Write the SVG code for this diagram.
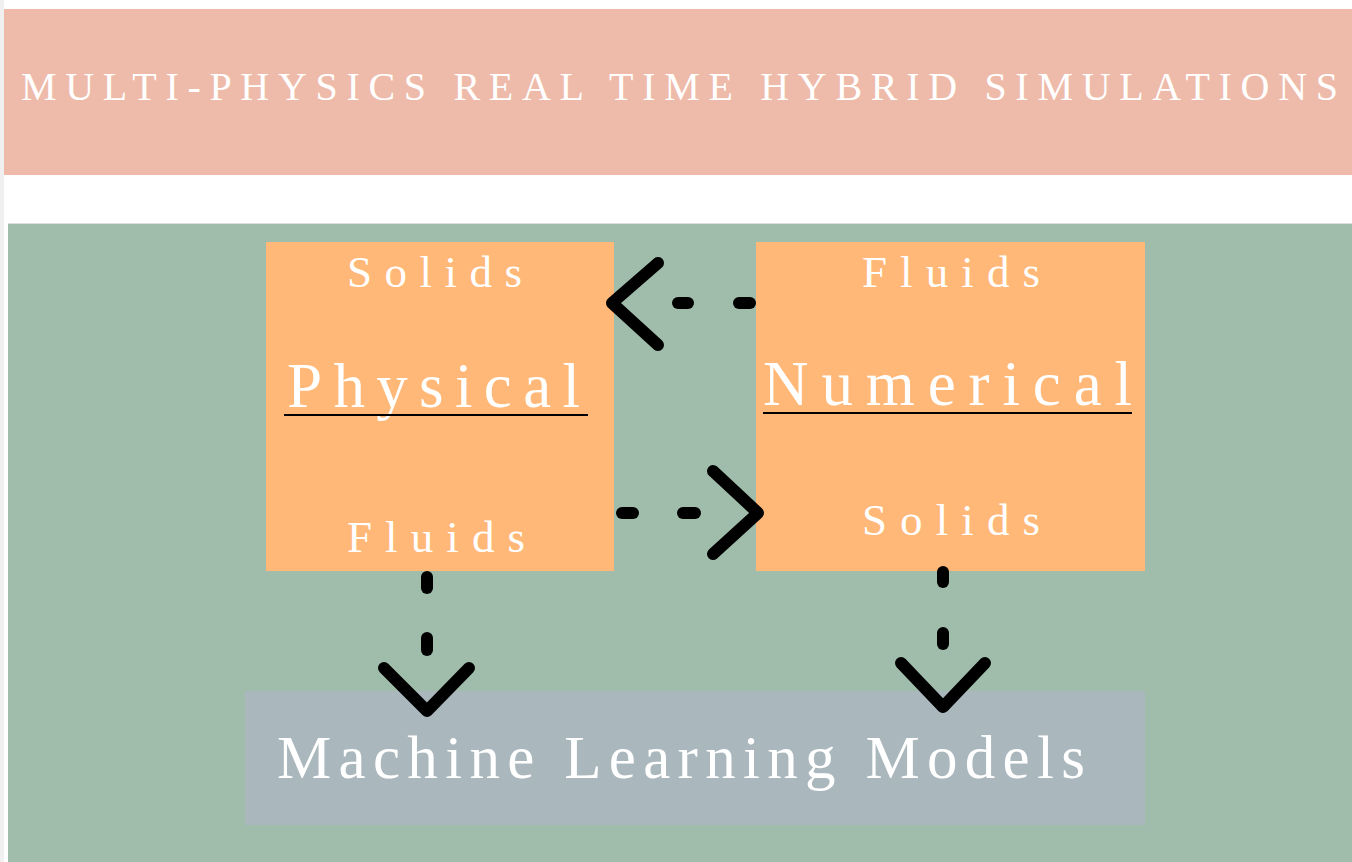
<svg xmlns="http://www.w3.org/2000/svg" width="1352" height="862" viewBox="0 0 1352 862">
<style>
.t{font-family:"Liberation Serif","DejaVu Serif",serif;fill:#ffffff;}
.ul{stroke:#000;stroke-width:2;}
.c{stroke:#000;stroke-width:12;stroke-linecap:round;stroke-linejoin:round;fill:none;}
</style>
<rect x="0" y="0" width="1352" height="862" fill="#ffffff"/>
<rect x="0" y="0" width="4" height="862" fill="#f0f0f0"/>
<g id="title">
<rect x="4" y="9" width="1348" height="166" fill="#eebbaa"/>
<text class="t" x="21" y="100" font-size="40" textLength="1317" lengthAdjust="spacing">MULTI-PHYSICS REAL TIME HYBRID SIMULATIONS</text>
</g>
<g id="panel">
<rect x="8" y="223" width="1344" height="639" fill="#a0bcaa"/>
<line x1="8" y1="223.5" x2="1352" y2="223.5" stroke="#dddddd" stroke-width="1"/>
</g>
<g id="physical">
<rect x="266" y="242" width="348" height="329" fill="#ffb877"/>
<text class="t" x="347" y="287" font-size="45" textLength="175" lengthAdjust="spacing">Solids</text>
<text class="t" x="287" y="407" font-size="63" textLength="293" lengthAdjust="spacing">Physical</text>
<line class="ul" x1="284" y1="415" x2="588" y2="415"/>
<text class="t" x="347" y="552" font-size="45" textLength="178" lengthAdjust="spacing">Fluids</text>
</g>
<g id="numerical">
<rect x="756" y="242" width="389" height="329" fill="#ffb877"/>
<text class="t" x="862" y="287" font-size="45" textLength="178" lengthAdjust="spacing">Fluids</text>
<text class="t" x="763" y="405" font-size="63" textLength="369" lengthAdjust="spacing">Numerical</text>
<line class="ul" x1="763" y1="413" x2="1132" y2="413"/>
<text class="t" x="862" y="535" font-size="45" textLength="178" lengthAdjust="spacing">Solids</text>
</g>
<g id="ml">
<rect x="245" y="691" width="900" height="134" fill="#aab7bd"/>
<text class="t" x="277" y="778" font-size="61" textLength="808" lengthAdjust="spacing">Machine Learning Models</text>
</g>
<g id="connectors">
<line class="c" x1="678" y1="303" x2="688" y2="303"/>
<line class="c" x1="739" y1="303" x2="750" y2="303"/>
<polyline class="c" points="658,263 612,303 658,345"/>
<line class="c" x1="622" y1="513" x2="633" y2="513"/>
<line class="c" x1="683" y1="513" x2="695" y2="513"/>
<polyline class="c" points="713,471 758,513 713,554"/>
<line class="c" x1="427" y1="577" x2="427" y2="588"/>
<line class="c" x1="427" y1="638" x2="427" y2="650"/>
<polyline class="c" points="384,668 427,711 469,668"/>
<line class="c" x1="943" y1="572" x2="943" y2="582"/>
<line class="c" x1="943" y1="633" x2="943" y2="644"/>
<polyline class="c" points="901,663 943,707 985,663"/>
</g>
</svg>
